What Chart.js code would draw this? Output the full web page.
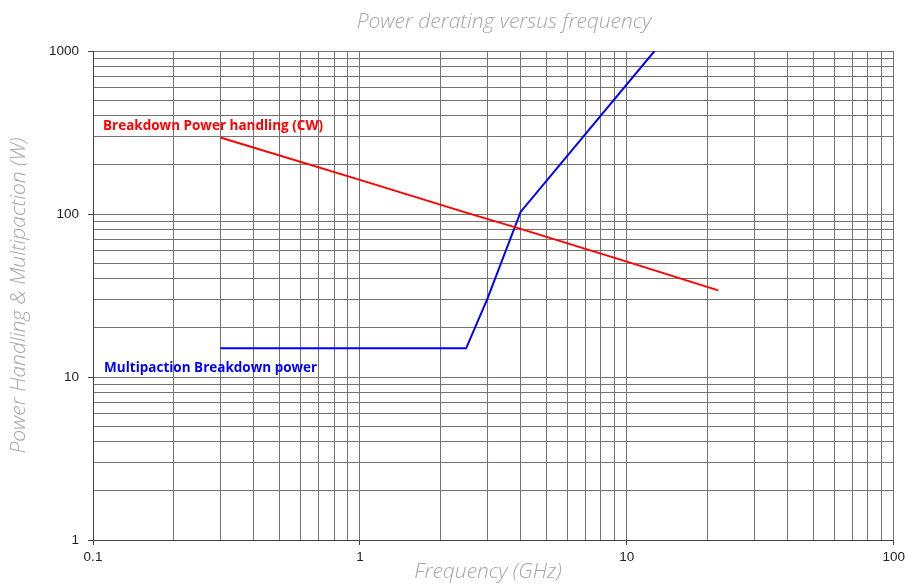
<!DOCTYPE html>
<html>
<head>
<meta charset="utf-8">
<script src="https://cdn.jsdelivr.net/npm/chart.js@4"></script>
<style>
  html, body { margin: 0; padding: 0; background: #fff; }
  #wrap { width: 909px; height: 584px; }
</style>
</head>
<body>
<div id="wrap"><canvas id="myChart" width="909" height="584"></canvas></div>
<script>
// Breakdown power handling (CW)
var redFreq = [0.3, 1, 2.5, 4, 10, 22];
var redPower = [295, 162, 102, 81, 51, 34];

// Multipaction breakdown power
var blueFreq = [0.3, 2.5, 3, 4, 12.7];
var bluePower = [15, 15, 30, 103, 1000];

// axis decades (tick labels) and in-plot labels
var xDecades = [0.1, 1, 10, 100];
var yDecades = [1, 10, 100, 1000];
var mantissas = [1, 2, 3, 4, 5, 6, 7, 8, 9];
var seriesLabels = ['Breakdown Power handling (CW)', 'Multipaction Breakdown power'];
var labelFreq = [0.109, 0.11];
var labelPower = [345, 11.4];
var labelColors = ['#ff0000', '#0000ff'];

var titleFont = 'italic 300 21px "Open Sans"';
var titleColor = '#a6a6a6';

function toPoints(xs, ys) {
    return xs.map(function(x, i) { return { x: x, y: ys[i] }; });
}

function logTicks(decades) {
    var out = [];
    decades.forEach(function(d, i) {
        if (i === decades.length - 1) { out.push(d); return; }
        mantissas.forEach(function(m) { out.push(+(m * d).toPrecision(3)); });
    });
    return out;
}

function isDecade(list, v) {
    return list.some(function(d) { return Math.abs(d - v) / d < 1e-6; });
}

// series labels inside the plot + chart / x-axis titles (slightly off-centre in the original)
var labelPlugin = {
    id: 'seriesLabels',
    afterDatasetsDraw: function(chart) {
        var ctx = chart.ctx;
        var xs = chart.scales.x, ys = chart.scales.y;
        ctx.save();
        ctx.font = 'bold 13.5px "Open Sans"';
        ctx.textBaseline = 'middle';
        ctx.textAlign = 'left';
        seriesLabels.forEach(function(txt, i) {
            ctx.fillStyle = labelColors[i];
            ctx.fillText(txt, xs.getPixelForValue(labelFreq[i]), ys.getPixelForValue(labelPower[i]));
        });

        ctx.font = titleFont;
        ctx.fillStyle = titleColor;
        ctx.textAlign = 'center';
        ctx.fillText('Power derating versus frequency', 504, 22);
        ctx.fillText('Frequency (GHz)', 488, 572);
        ctx.restore();
    }
};

function gridOpts(decades) {
    return {
        color: '#737373',
        lineWidth: 1,
        tickLength: 5,
        tickColor: function(c) {
            return c.tick && isDecade(decades, c.tick.value) ? '#404040' : 'rgba(0,0,0,0)';
        }
    };
}

new Chart(document.getElementById('myChart'), {
    type: 'scatter',
    data: {
        datasets: [{
            label: seriesLabels[0],
            data: toPoints(redFreq, redPower),
            showLine: true,
            borderColor: '#ff0000',
            borderWidth: 2,
            pointRadius: 0
        }, {
            label: seriesLabels[1],
            data: toPoints(blueFreq, bluePower),
            showLine: true,
            borderColor: '#0000ff',
            borderWidth: 2,
            pointRadius: 0
        }]
    },
    options: {
        responsive: false,
        animation: false,
        layout: { padding: { top: 51, right: 14, bottom: 0, left: 0 } },
        plugins: {
            legend: { display: false },
            tooltip: { enabled: false },
            title: { display: false }
        },
        scales: {
            x: {
                type: 'logarithmic',
                min: 0.1,
                max: 100,
                afterBuildTicks: function(s) {
                    s.ticks = logTicks(xDecades).map(function(v) { return { value: v }; });
                },
                afterFit: function(s) { s.height = 44; },
                border: { color: '#404040', width: 1 },
                grid: gridOpts(xDecades),
                ticks: {
                    autoSkip: false,
                    maxRotation: 0,
                    padding: 4,
                    color: '#222',
                    font: { family: '"Liberation Sans"', size: 13.5 },
                    callback: function(v) { return isDecade(xDecades, v) ? String(v) : ''; }
                }
            },
            y: {
                type: 'logarithmic',
                min: 1,
                max: 1000,
                afterBuildTicks: function(s) {
                    s.ticks = logTicks(yDecades).map(function(v) { return { value: v }; });
                },
                afterFit: function(s) { s.width = 93; },
                border: { color: '#404040', width: 1 },
                grid: gridOpts(yDecades),
                ticks: {
                    autoSkip: false,
                    padding: 9,
                    color: '#222',
                    font: { family: '"Liberation Sans"', size: 13.5 },
                    callback: function(v) { return isDecade(yDecades, v) ? String(v) : ''; }
                },
                title: {
                    display: true,
                    text: 'Power Handling & Multipaction (W)',
                    color: titleColor,
                    font: { family: '"Open Sans"', size: 21, style: 'italic', weight: 300 },
                    padding: { top: 6, bottom: 0 }
                }
            }
        }
    },
    plugins: [labelPlugin]
});
</script>
</body>
</html>
